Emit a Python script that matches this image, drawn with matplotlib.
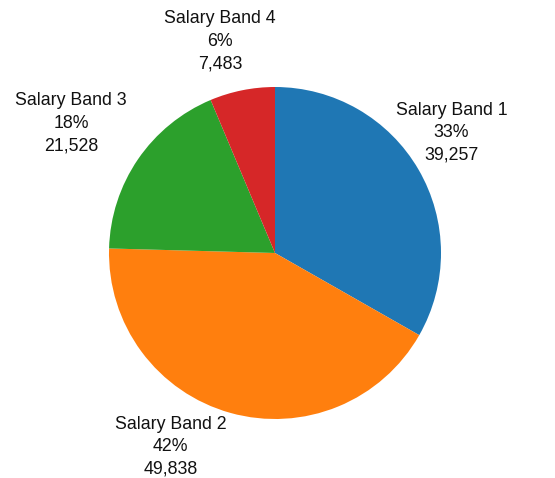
import numpy as np
import matplotlib
matplotlib.use("Agg")
import matplotlib.pyplot as plt

plt.rcParams['font.family'] = ['Liberation Sans', 'DejaVu Sans']

labels = ["Salary Band 1", "Salary Band 2", "Salary Band 3", "Salary Band 4"]
values = [39257, 49838, 21528, 7483]
colors = ["#1f77b4", "#ff7f0e", "#2ca02c", "#d62728"]

# label offsets (pixels) from the wedge rim at each wedge's mid-angle
label_offsets = [(33, 37), (-60, -34), (-67, 36), (-22, 49)]

W, H, DPI = 555, 478, 100
fig = plt.figure(figsize=(W / DPI, H / DPI), dpi=DPI)
fig.patch.set_facecolor("white")

cx, cy, r = 275, 478 - 253, 166
ax = fig.add_axes([(cx - r) / W, (cy - r) / H, 2 * r / W, 2 * r / H])
wedges, _ = ax.pie(values, colors=colors, startangle=90, counterclock=False,
                   radius=1.0, wedgeprops=dict(linewidth=0))
ax.set_xlim(-1, 1)
ax.set_ylim(-1, 1)
ax.set_aspect("equal")
ax.axis("off")

total = sum(values)
for w, lab, v, (ox, oy) in zip(wedges, labels, values, label_offsets):
    theta = np.deg2rad((w.theta1 + w.theta2) / 2)
    x, y = np.cos(theta), np.sin(theta)
    txt = f"{lab}\n{v / total * 100:.0f}%\n{v:,}"
    ax.annotate(txt, xy=(x, y), xytext=(ox, oy), textcoords="offset pixels",
                ha="center", va="center", fontsize=12.8, linespacing=1.42,
                color="#111111", annotation_clip=False)

fig.savefig("out.png", dpi=DPI, facecolor="white")
